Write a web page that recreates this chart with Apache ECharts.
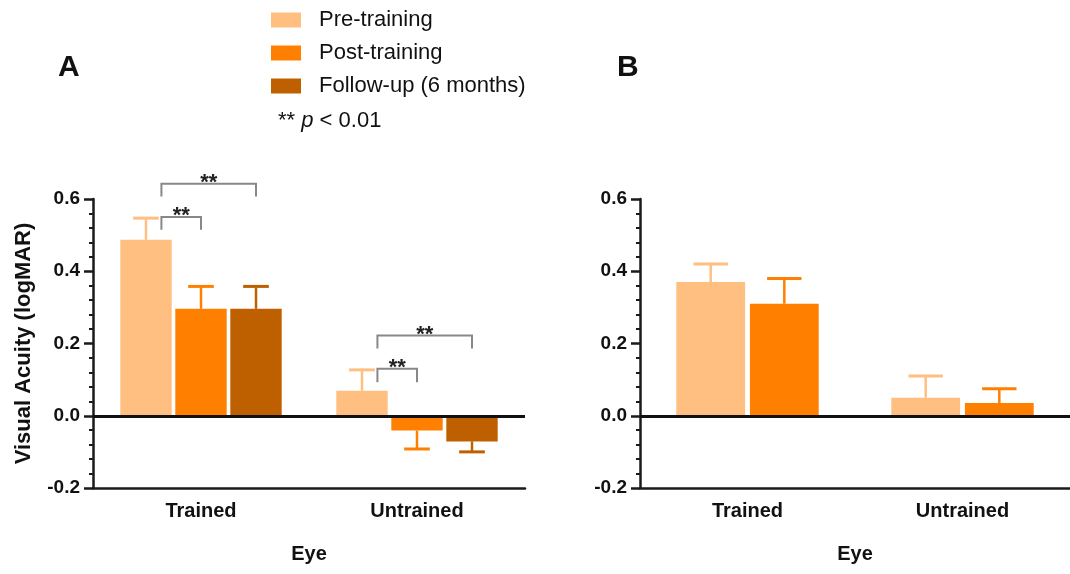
<!DOCTYPE html>
<html>
<head>
<meta charset="utf-8">
<script src="https://cdn.jsdelivr.net/npm/echarts@6/dist/echarts.min.js"></script>
<style>
  html, body { margin: 0; padding: 0; background: #fff; }
  #chart { width: 1070px; height: 574px; }
</style>
</head>
<body>
<div id="chart"></div>
<script>
// ---------- data ----------
const categories = ['Trained', 'Untrained'];
const seriesNames = ['Pre-training', 'Post-training', 'Follow-up (6 months)'];
const yTickLabels = ['-0.2', '0.0', '0.2', '0.4', '0.6'];

// Panel A (means and SD)
const aPre = [0.487, 0.069];
const aPreSD = [0.060, 0.058];
const aPost = [0.296, -0.041];
const aPostSD = [0.062, 0.051];
const aFollow = [0.296, -0.071];
const aFollowSD = [0.062, 0.029];

// Panel B (means and SD)
const bPre = [0.370, 0.050];
const bPreSD = [0.050, 0.060];
const bPost = [0.310, 0.035];
const bPostSD = [0.070, 0.040];

// Significance brackets, panel A: [category, fromSeries, toSeries, top, tickEnd]
const sigBrackets = [
  [0, 0, 1, 0.550, 0.515],
  [0, 0, 2, 0.642, 0.607],
  [1, 0, 1, 0.130, 0.093],
  [1, 0, 2, 0.222, 0.186]
];
const sigText = '**';

// ---------- styling ----------
const FONT = "'Liberation Sans', Arial, Helvetica, sans-serif";
const colors = ['#FFBF80', '#FF8000', '#BF6000'];
const AX = '#1a1a1a';
const A_BAR = 0.238, B_BAR = 0.32, GAP = 0.07;

function zip(v, sd) { return v.map((x, i) => [i, x, sd[i]]); }

function errRender(k, n, frac, color) {
  return function (params, api) {
    const cat = api.value(0), v = api.value(1), e = api.value(2);
    const band = api.size([1, 0])[0];
    const bw = band * frac;
    const off = (k - (n - 1) / 2) * bw * (1 + GAP);
    const p0 = api.coord([cat, v]);
    const y1 = api.coord([cat, v >= 0 ? v + e : v - e])[1];
    const x = p0[0] + off;
    const half = bw / 4;
    return {
      type: 'group',
      children: [
        { type: 'line', shape: { x1: x, y1: p0[1], x2: x, y2: y1 }, style: { stroke: color, lineWidth: 2.5 } },
        { type: 'line', shape: { x1: x - half, y1: y1, x2: x + half, y2: y1 }, style: { stroke: color, lineWidth: 3 } }
      ]
    };
  };
}

function bracketRender(n, frac) {
  return function (params, api) {
    const cat = api.value(0), from = api.value(1), to = api.value(2);
    const top = api.value(3), end = api.value(4);
    const band = api.size([1, 0])[0];
    const bw = band * frac;
    const c = api.coord([cat, top]);
    const yEnd = api.coord([cat, end])[1];
    const x0 = c[0] + (from - (n - 1) / 2) * bw * (1 + GAP) + 0.3 * bw;
    const x1 = c[0] + (to - (n - 1) / 2) * bw * (1 + GAP);
    return {
      type: 'group',
      children: [
        { type: 'polyline', shape: { points: [[x0, yEnd], [x0, c[1]], [x1, c[1]], [x1, yEnd]] },
          style: { stroke: '#888', lineWidth: 2, fill: null } },
        { type: 'text', x: (x0 + x1) / 2, y: c[1] - 1,
          style: { text: sigText, fontSize: 22, fontWeight: 'bold', fontFamily: FONT, fill: '#222',
                   textAlign: 'center', textVerticalAlign: 'middle' } }
      ]
    };
  };
}

function yAxisCfg(gridIndex, withName) {
  return {
    type: 'value', gridIndex: gridIndex, min: -0.2, max: 0.6, interval: 0.2,
    name: withName ? 'Visual Acuity (logMAR)' : '',
    nameLocation: 'middle', nameRotate: 90, nameGap: 58,
    nameTextStyle: { fontSize: 22, fontWeight: 'bold', fontFamily: FONT, color: '#111' },
    axisLine: { show: true, lineStyle: { color: AX, width: 2.5 } },
    axisTick: { show: true, length: 9, lineStyle: { color: AX, width: 2.5 } },
    minorTick: { show: true, splitNumber: 5, length: 4, lineStyle: { color: AX, width: 2 } },
    splitLine: { show: false },
    axisLabel: {
      margin: 13, fontSize: 19, fontWeight: 'bold', fontFamily: FONT, color: '#111',
      formatter: function (v) { return yTickLabels[Math.round((v + 0.2) / 0.2)]; }
    }
  };
}

function xAxisCfg(gridIndex) {
  return {
    type: 'category', gridIndex: gridIndex, data: categories,
    name: 'Eye', nameLocation: 'middle', nameGap: 56,
    nameTextStyle: { fontSize: 20, fontWeight: 'bold', fontFamily: FONT, color: '#111' },
    axisLine: { show: true, onZero: false, lineStyle: { color: AX, width: 2.5 } },
    axisTick: { show: false },
    axisLabel: { margin: 13, fontSize: 20, fontWeight: 'bold', fontFamily: FONT, color: '#111' },
    splitLine: { show: false }
  };
}

const zeroLine = {
  silent: true, symbol: 'none', label: { show: false },
  lineStyle: { color: '#111', width: 3, type: 'solid' },
  data: [{ yAxis: 0 }]
};

function barSeries(name, idx, data, gi, width, withZero) {
  const s = {
    type: 'bar', name: name, xAxisIndex: gi, yAxisIndex: gi, data: data,
    barWidth: width, barGap: (GAP * 100) + '%',
    itemStyle: { color: colors[idx] }, animation: false
  };
  if (withZero) s.markLine = zeroLine;
  return s;
}

function errSeries(name, k, n, frac, vals, sds, gi) {
  return {
    type: 'custom', name: name, xAxisIndex: gi, yAxisIndex: gi,
    renderItem: errRender(k, n, frac, colors[k]), data: zip(vals, sds),
    z: 3, clip: false, animation: false, silent: true
  };
}

const chart = echarts.init(document.getElementById('chart'), null, { renderer: 'canvas' });

chart.setOption({
  backgroundColor: '#fff',
  animation: false,
  title: [
    { text: 'A', left: 58, top: 53, padding: 0, textStyle: { fontSize: 30, fontWeight: 'bold', fontFamily: FONT, color: '#111' } },
    { text: 'B', left: 617, top: 53, padding: 0, textStyle: { fontSize: 30, fontWeight: 'bold', fontFamily: FONT, color: '#111' } },
    { text: '{s|** }{i|p}{s| < 0.01}', left: 278, top: 110, padding: 0,
      textStyle: { rich: {
        s: { fontSize: 22, fontFamily: FONT, color: '#111', fontWeight: 'normal' },
        i: { fontSize: 22, fontFamily: FONT, color: '#111', fontStyle: 'italic', fontWeight: 'normal' } } } }
  ],
  legend: {
    data: seriesNames, orient: 'vertical', left: 271, top: 9, padding: 0,
    itemWidth: 30, itemHeight: 15, itemGap: 11, icon: 'rect', selectedMode: false,
    textStyle: { fontSize: 22, fontFamily: FONT, color: '#111', padding: [0, 0, 0, 13] }
  },
  grid: [
    { left: 93, top: 199, width: 432, height: 289 },
    { left: 640, top: 199, width: 432, height: 289 }
  ],
  xAxis: [xAxisCfg(0), xAxisCfg(1)],
  yAxis: [yAxisCfg(0, true), yAxisCfg(1, false)],
  series: [
    barSeries(seriesNames[0], 0, aPre, 0, (A_BAR * 100) + '%', true),
    barSeries(seriesNames[1], 1, aPost, 0, (A_BAR * 100) + '%', false),
    barSeries(seriesNames[2], 2, aFollow, 0, (A_BAR * 100) + '%', false),
    errSeries(seriesNames[0], 0, 3, A_BAR, aPre, aPreSD, 0),
    errSeries(seriesNames[1], 1, 3, A_BAR, aPost, aPostSD, 0),
    errSeries(seriesNames[2], 2, 3, A_BAR, aFollow, aFollowSD, 0),
    {
      type: 'custom', xAxisIndex: 0, yAxisIndex: 0, renderItem: bracketRender(3, A_BAR),
      data: sigBrackets, clip: false, silent: true, z: 4, animation: false
    },
    barSeries(seriesNames[0], 0, bPre, 1, (B_BAR * 100) + '%', true),
    barSeries(seriesNames[1], 1, bPost, 1, (B_BAR * 100) + '%', false),
    errSeries(seriesNames[0], 0, 2, B_BAR, bPre, bPreSD, 1),
    errSeries(seriesNames[1], 1, 2, B_BAR, bPost, bPostSD, 1)
  ]
});
</script>
</body>
</html>
